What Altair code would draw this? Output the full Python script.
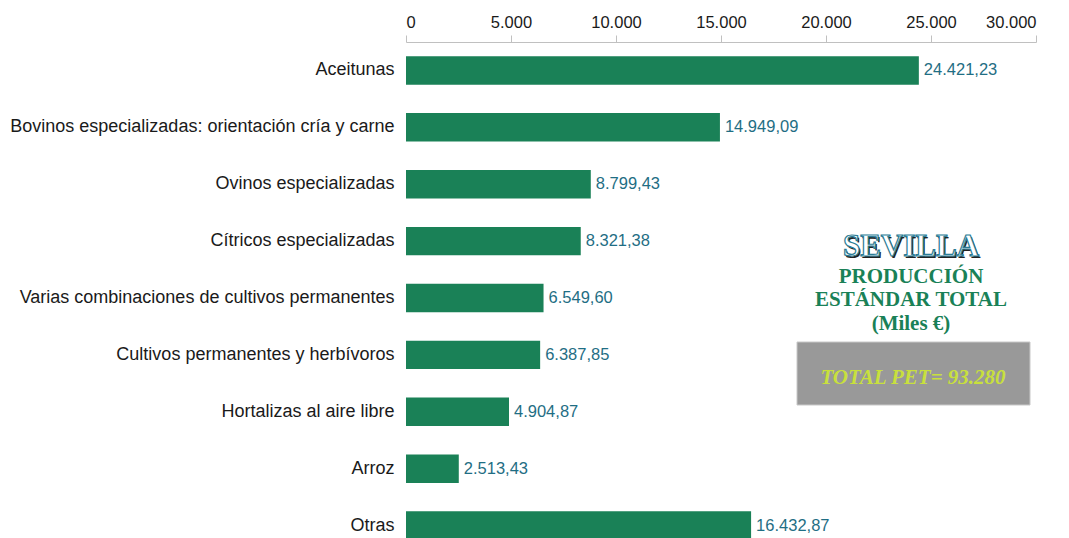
import altair as alt
import pandas as pd

categories = [
    "Aceitunas",
    "Bovinos especializadas: orientación cría y carne",
    "Ovinos especializadas",
    "Cítricos especializadas",
    "Varias combinaciones de cultivos permanentes",
    "Cultivos permanentes y herbívoros",
    "Hortalizas al aire libre",
    "Arroz",
    "Otras",
]
values = [24421.23, 14949.09, 8799.43, 8321.38, 6549.60, 6387.85, 4904.87, 2513.43, 16432.87]
tick_values = [0, 5000, 10000, 15000, 20000, 25000, 30000]


def es_fmt(v):
    s = f"{v:,.2f}"
    return s.replace(",", "X").replace(".", ",").replace("X", ".")


df = pd.DataFrame({
    "cat": categories,
    "val": values,
    "label": [es_fmt(v) for v in values],
})

GREEN = "#1a8157"
TEAL = "#1f6e84"
FONT = "Liberation Sans"
SERIF = "Liberation Serif"

y_enc = alt.Y(
    "cat:N", sort=categories, title=None,
    scale=alt.Scale(paddingInner=0.5, paddingOuter=0.25),
    axis=alt.Axis(domain=False, ticks=False, labelPadding=12, labelFontSize=18,
                  labelFont=FONT, labelColor="#1a1a1a", labelLimit=600),
)
x_enc = alt.X(
    "val:Q", title=None,
    scale=alt.Scale(domain=[0, 30000], nice=False),
    axis=alt.Axis(orient="top", values=tick_values, grid=False, tickSize=7,
                  domainColor="#c0c0c0", tickColor="#c0c0c0", labelPadding=5,
                  labelFontSize=16.5, labelFont=FONT, labelColor="#1a1a1a",
                  labelExpr="replace(format(datum.value, ','), ',', '.')"),
)

bars = alt.Chart(df).mark_bar(color=GREEN).encode(x=x_enc, y=y_enc)
texts = alt.Chart(df).mark_text(align="left", baseline="middle", dx=5, fontSize=16.5,
                                font=FONT, color=TEAL).encode(
    x="val:Q", y=alt.Y("cat:N", sort=categories), text="label:N")

one = pd.DataFrame({"t": ["SEVILLA"]})

sev_shadow = alt.Chart(one).mark_text(fontSize=31, font=SERIF, fontWeight="bold",
                                      color="#222222", align="center", baseline="middle").encode(
    x=alt.value(506.5), y=alt.value(206.5), text=alt.value("SEVILLA"))
sev = alt.Chart(one).mark_text(fontSize=31, font=SERIF, fontWeight="bold",
                               fill="white", stroke="#2a7c95", strokeWidth=1.2,
                               align="center", baseline="middle").encode(
    x=alt.value(505), y=alt.value(205), text=alt.value("SEVILLA"))

sub_lines = [("PRODUCCIÓN", 235), ("ESTÁNDAR TOTAL", 258), ("(Miles €)", 282)]
subs = []
for txt, yy in sub_lines:
    subs.append(alt.Chart(one).mark_text(fontSize=21, font=SERIF, fontWeight="bold",
                                         color=GREEN, align="center", baseline="middle").encode(
        x=alt.value(505), y=alt.value(yy), text=alt.value(txt)))

box = alt.Chart(one).mark_rect(fill="#999999", stroke="#c8c8c8", strokeWidth=1).encode(
    x=alt.value(391), x2=alt.value(624), y=alt.value(300), y2=alt.value(363))
total = alt.Chart(one).mark_text(fontSize=21, font=SERIF, fontWeight="bold", fontStyle="italic",
                                 color="#c8e03c", align="center", baseline="middle").encode(
    x=alt.value(507), y=alt.value(336), text=alt.value("TOTAL PET= 93.280"))

chart = alt.layer(bars, texts, sev_shadow, sev, *subs, box, total).properties(
    width=630, height=512,
    padding={"left": 398, "top": 34, "right": 20, "bottom": 10},
    autosize=alt.AutoSizeParams(type="none"),
).configure_view(stroke=None)

chart.save("out.html", embed_options={"renderer": "svg", "actions": False})
